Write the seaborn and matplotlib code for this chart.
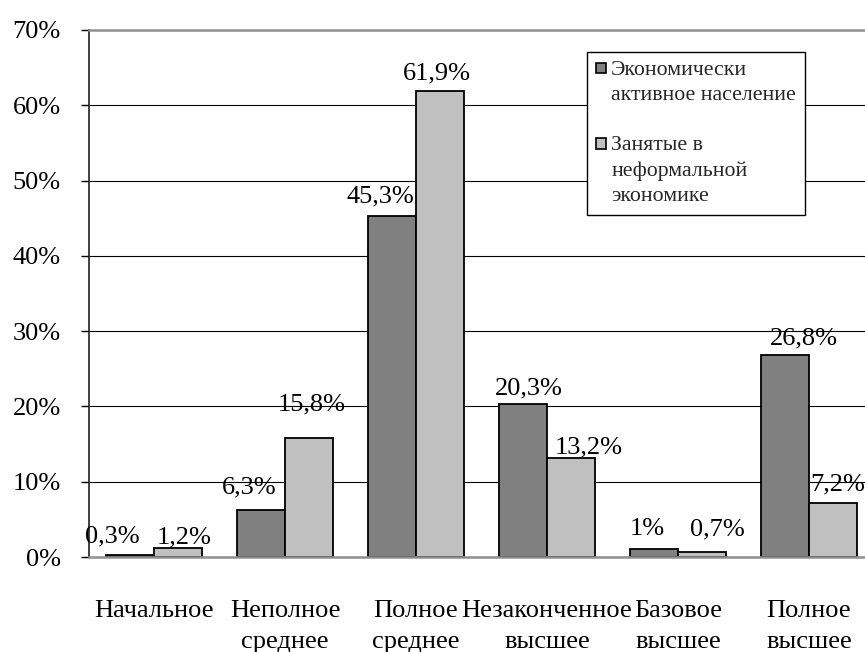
import matplotlib
matplotlib.use("Agg")
import matplotlib.pyplot as plt
import seaborn as sns
import pandas as pd
from matplotlib.patches import Patch
from matplotlib.transforms import Affine2D
from matplotlib.ticker import FuncFormatter

# ---- data ----
categories = ["Начальное", "Неполное\nсреднее", "Полное\nсреднее",
              "Незаконченное\nвысшее", "Базовое\nвысшее", "Полное\nвысшее"]
series_names = ["Экономически\nактивное население",
                "Занятые в\nнеформальной\nэкономике"]
active_pop = [0.3, 6.3, 45.3, 20.3, 1.0, 26.8]
informal = [1.2, 15.8, 61.9, 13.2, 0.7, 7.2]
y_ticks = [0, 10, 20, 30, 40, 50, 60, 70]

# label offsets (pixels) relative to bar top-centre: style only
label_offsets = [
    [(-18, 18), (-12, 22), (-12, 20), (6, 16), (-7, 20), (19, 17)],
    [(6, 11), (3, 34), (-3, 18), (18, 10), (15, 22), (5, 18)],
]

colors = ["#808080", "#c0c0c0"]

df = pd.DataFrame({
    "cat": categories * 2,
    "val": active_pop + informal,
    "series": [series_names[0]] * len(categories) + [series_names[1]] * len(categories),
})

sns.set_theme(style="white")
plt.rcParams["font.family"] = ["Liberation Serif", "DejaVu Serif"]

fig = plt.figure(figsize=(8.65, 6.52), dpi=100)
ax = fig.add_axes([88.5 / 865, (652 - 557) / 652, 786 / 865, 527 / 652])

sns.barplot(data=df, x="cat", y="val", hue="series", order=categories,
            hue_order=series_names, palette=colors, width=0.733,
            edgecolor="black", linewidth=1.3, saturation=1, ax=ax,
            legend=False, errorbar=None)

ax.set_xlim(-0.5, len(categories) - 0.5)
ax.set_ylim(0, 70)
ax.set_yticks(y_ticks)
ax.yaxis.set_major_formatter(FuncFormatter(lambda v, p: f"{v:.0f}%"))
ax.set_xlabel("")
ax.set_ylabel("")

ax.set_axisbelow(True)
ax.yaxis.grid(True, color="black", linewidth=0.8)
ax.xaxis.grid(False)

ax.spines["right"].set_visible(False)
ax.spines["top"].set_color("#909090")
ax.spines["top"].set_linewidth(1.8)
ax.spines["bottom"].set_color("#909090")
ax.spines["bottom"].set_linewidth(1.8)
ax.spines["left"].set_color("#202020")
ax.spines["left"].set_linewidth(1.2)

ax.tick_params(axis="y", which="both", left=True, length=6, width=1,
               color="black", pad=14, labelsize=19, labelcolor="black")
ax.tick_params(axis="x", length=0, pad=31, labelsize=19, labelcolor="black")
for t in ax.get_xticklabels():
    t.set_multialignment("center")
    t.set_linespacing(1.5)

# value labels
for si, cont in enumerate(ax.containers):
    vals = [active_pop, informal][si]
    for bi, bar in enumerate(cont):
        v = vals[bi]
        txt = (f"{v:g}".replace(".", ",")) + "%"
        dx, dy = label_offsets[si][bi]
        ax.annotate(txt, (bar.get_x() + bar.get_width() / 2, bar.get_height()),
                    xytext=(dx, dy), textcoords="offset pixels",
                    ha="center", va="center", fontsize=19, color="black")

# legend
handles = [Patch(facecolor=c, edgecolor="black", linewidth=1.2) for c in colors]
leg = ax.legend(handles, series_names,
                loc="upper left", bbox_to_anchor=(0.634, 0.958),
                borderaxespad=0, fontsize=15.7, frameon=True,
                fancybox=False, edgecolor="black", framealpha=1,
                handlelength=0.47, handleheight=0.34, handletextpad=0.25,
                labelspacing=1.45, borderpad=0.4)
leg.get_frame().set_linewidth(1.0)
for t in leg.get_texts():
    t.set_linespacing(1.42)

# move each legend marker up to the first line of its label
fig.canvas.draw()
for h, t in zip(leg.legend_handles, leg.get_texts()):
    tb = t.get_window_extent()
    hb = h.get_window_extent()
    dy = (tb.y1 - 2) - hb.y1
    h.set_transform(h.get_data_transform() + Affine2D().translate(0, dy))

fig.savefig("out.png", dpi=100)
